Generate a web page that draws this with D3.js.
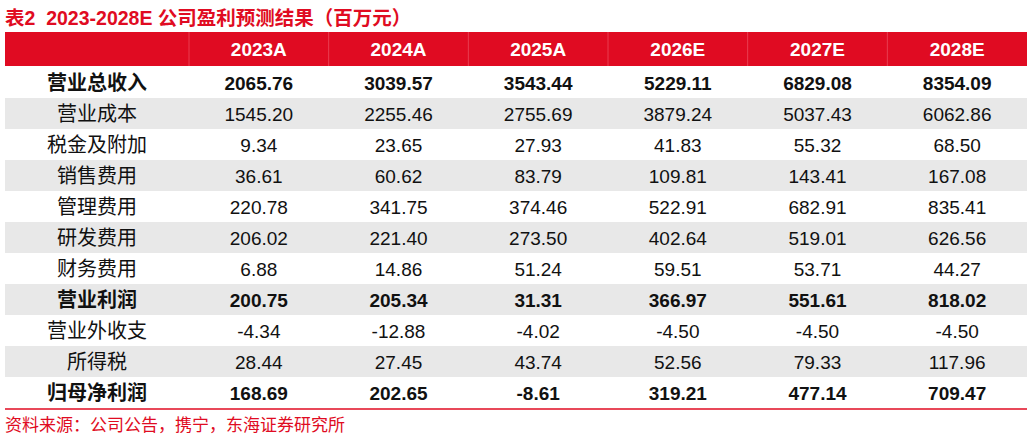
<!DOCTYPE html><html><head><meta charset="utf-8"><script src="https://cdn.jsdelivr.net/npm/d3@7"></script>
<style>body{margin:0;background:#fff}text{white-space:pre}</style></head><body><svg id="c" width="1032" height="439"></svg>
<script>
const years=["2023A","2024A","2025A","2026E","2027E","2028E"];
const labels=["营业总收入","营业成本","税金及附加","销售费用","管理费用","研发费用","财务费用","营业利润","营业外收支","所得税","归母净利润"];
const boldRows=["营业总收入","营业利润","归母净利润"];
const values=[
["2065.76","3039.57","3543.44","5229.11","6829.08","8354.09"],
["1545.20","2255.46","2755.69","3879.24","5037.43","6062.86"],
["9.34","23.65","27.93","41.83","55.32","68.50"],
["36.61","60.62","83.79","109.81","143.41","167.08"],
["220.78","341.75","374.46","522.91","682.91","835.41"],
["206.02","221.40","273.50","402.64","519.01","626.56"],
["6.88","14.86","51.24","59.51","53.71","44.27"],
["200.75","205.34","31.31","366.97","551.61","818.02"],
["-4.34","-12.88","-4.02","-4.50","-4.50","-4.50"],
["28.44","27.45","43.74","52.56","79.33","117.96"],
["168.69","202.65","-8.61","319.21","477.14","709.47"]];
const title="表2  2023-2028E 公司盈利预测结果（百万元）";
const source="资料来源：公司公告，携宁，东海证券研究所";
const red="#e00b22", font="'Liberation Sans', Arial, 'Noto Sans CJK SC', sans-serif";
const svg=d3.select("#c");
const x0=5,x1=1027,labW=184;
const x=d3.scaleBand().domain(years).range([x0+labW,x1]);
const y=d3.scaleBand().domain(labels).range([67,408]);
svg.append("text").attr("x",5).attr("y",25).attr("fill",red).attr("font-weight","bold").attr("font-size",19.5).attr("font-family",font).text(title);
svg.append("rect").attr("x",x0).attr("y",32).attr("width",x1-x0).attr("height",34).attr("fill",red);
years.forEach(yr=>{
 svg.append("line").attr("x1",x(yr)).attr("x2",x(yr)).attr("y1",32).attr("y2",66).attr("stroke","#f06070").attr("stroke-width",0.6);
 svg.append("text").attr("x",x(yr)+x.bandwidth()/2).attr("y",56).attr("text-anchor","middle").attr("fill","#fff").attr("font-weight","bold").attr("font-size",19).attr("font-family",font).text(yr);
});
labels.forEach((l,i)=>{
 const b=boldRows.includes(l);
 if(i%2===1) svg.append("rect").attr("x",x0).attr("y",y(l)).attr("width",x1-x0).attr("height",y.bandwidth()).attr("fill","#e8e8e8");
 const cy=y(l)+y.bandwidth()/2+7;
 svg.append("text").attr("x",x0+labW/2).attr("y",cy).attr("text-anchor","middle").attr("font-size",20).attr("font-weight",b?"bold":"normal").attr("font-family","'Noto Sans CJK SC', sans-serif").attr("fill","#111").text(l);
 values[i].forEach((v,j)=>svg.append("text").attr("x",x(years[j])+x.bandwidth()/2).attr("y",cy).attr("text-anchor","middle").attr("font-size",19).attr("font-weight",b?"bold":"normal").attr("font-family",font).attr("fill","#111").text(v));
});
svg.append("line").attr("x1",x0).attr("x2",x1).attr("y1",409).attr("y2",409).attr("stroke",red).attr("stroke-width",1.5);
svg.append("text").attr("x",5).attr("y",431).attr("fill",red).attr("font-size",17).attr("font-family","'Noto Sans CJK SC', sans-serif").text(source);
</script></body></html>
